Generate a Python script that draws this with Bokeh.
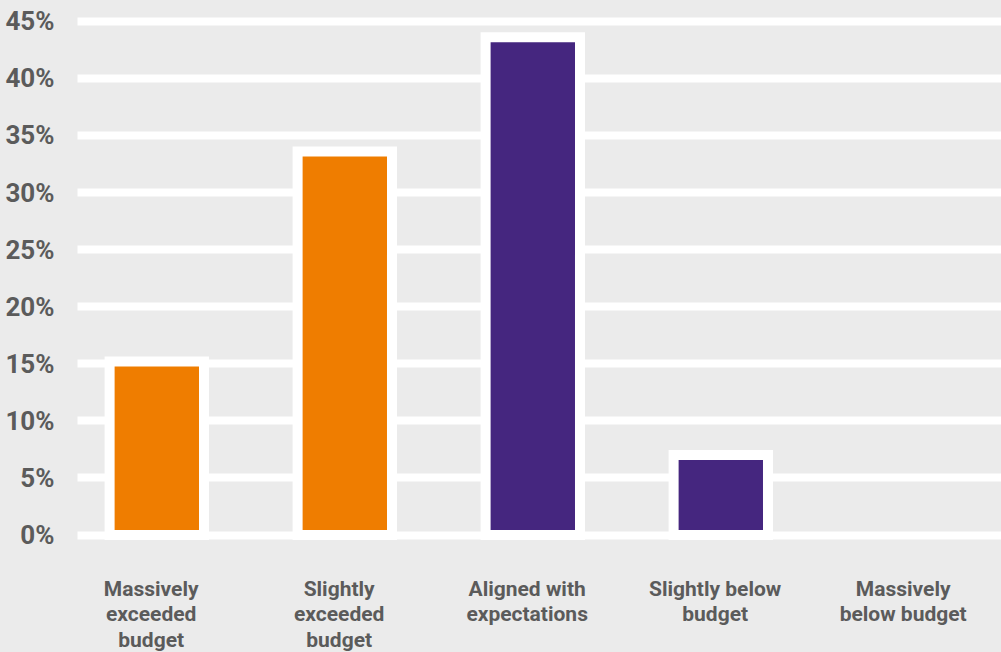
from bokeh.plotting import figure
from bokeh.models import Range1d, FixedTicker, LinearAxis
from bokeh.embed import file_html
from bokeh.resources import INLINE

categories = ["Massively\nexceeded\nbudget", "Slightly\nexceeded\nbudget",
              "Aligned with\nexpectations", "Slightly below\nbudget",
              "Massively\nbelow budget"]
values = [15.2, 33.6, 43.6, 7.0, 0.0]
bar_colors = ["#EF7D00", "#EF7D00", "#45267F", "#45267F", "#45267F"]
y_ticks = [0, 5, 10, 15, 20, 25, 30, 35, 40, 45]

BG = "#EBEBEB"
TXT = "#5B5B5B"

x = list(range(len(categories)))
outline = ["white" if v > 0 else None for v in values]

X0, X1 = -0.4218, 4.4931
LABEL_SHIFT = 0.03  # labels sit slightly left of bar centres

p = figure(frame_width=924, frame_height=525,
           x_range=Range1d(X0, X1), y_range=Range1d(-0.48, 45.51),
           x_axis_location=None,
           output_backend="svg", toolbar_location=None,
           min_border_left=77, min_border_top=15, min_border_right=0,
           min_border_bottom=104)
p.background_fill_color = BG
p.border_fill_color = BG
p.outline_line_color = None

p.vbar(x=x, top=values, bottom=0, width=0.502, fill_color=bar_colors,
       line_color=outline, line_width=10, line_join="miter")

p.xgrid.grid_line_color = None
p.ygrid.ticker = FixedTicker(ticks=y_ticks)
p.ygrid.grid_line_color = "white"
p.ygrid.grid_line_width = 8
p.ygrid.grid_line_cap = "round"

p.yaxis.ticker = FixedTicker(ticks=y_ticks)
p.yaxis.major_label_overrides = {t: f"{t}%" for t in y_ticks}
p.yaxis.axis_line_color = None
p.yaxis.major_tick_line_color = None
p.yaxis.minor_tick_line_color = None
p.yaxis.major_label_standoff = 17
p.yaxis.major_label_text_font = "Roboto"
p.yaxis.major_label_text_font_style = "bold"
p.yaxis.major_label_text_font_size = "26px"
p.yaxis.major_label_text_color = TXT

p.extra_x_ranges = {"lab": Range1d(X0 + LABEL_SHIFT, X1 + LABEL_SHIFT)}
xa = LinearAxis(x_range_name="lab", ticker=FixedTicker(ticks=x))
xa.major_label_overrides = {i: c for i, c in zip(x, categories)}
xa.axis_line_color = None
xa.major_tick_line_color = None
xa.minor_tick_line_color = None
xa.major_label_standoff = 30
xa.major_label_text_font = "Roboto"
xa.major_label_text_font_style = "bold"
xa.major_label_text_font_size = "21px"
xa.major_label_text_line_height = 1.07
xa.major_label_text_color = TXT
p.add_layout(xa, "below")

html = file_html(p, INLINE)
html = html.replace("<head>", "<head><style>body{background:#EBEBEB;}</style>", 1)
open("out.html", "w").write(html)
